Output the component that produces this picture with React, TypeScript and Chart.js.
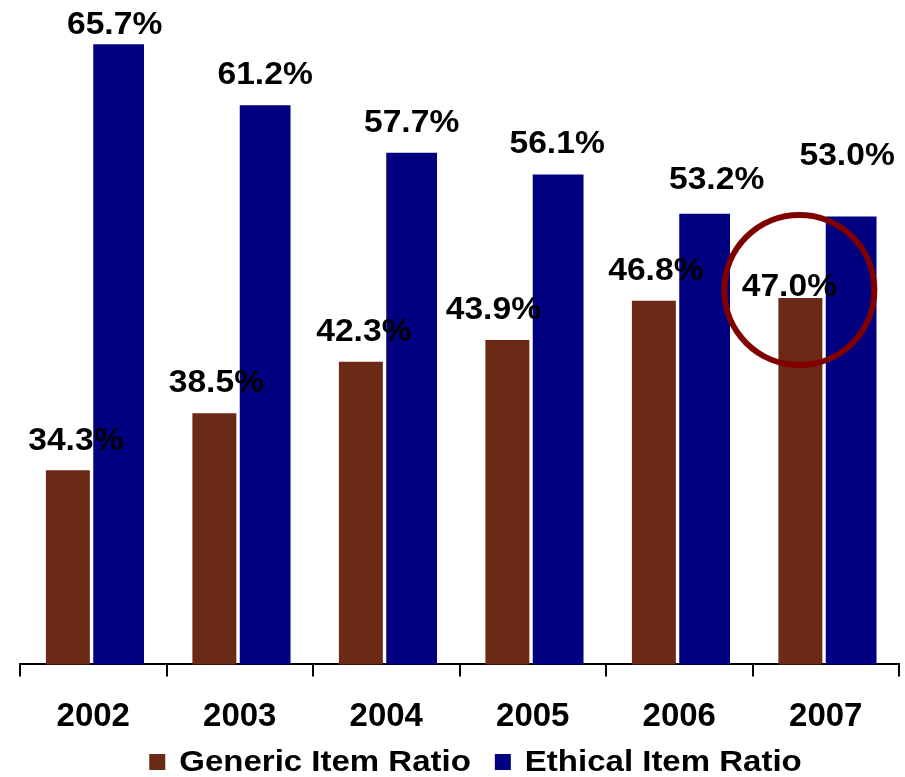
import React, { useEffect, useRef } from "react";
import { Chart, registerables } from "chart.js";

Chart.register(...registerables);

// Years on the category axis
const years = ["2002", "2003", "2004", "2005", "2006", "2007"];

// Share of items (%) per year
const genericRatio = [34.3, 38.5, 42.3, 43.9, 46.8, 47.0];
const ethicalRatio = [65.7, 61.2, 57.7, 56.1, 53.2, 53.0];

const seriesNames = ["Generic Item Ratio", "Ethical Item Ratio"];

// Small hand placement tweaks for the value labels: [dx, dy] in px
const genericLabelNudge = [[8, 1], [2, 0], [3, 0], [-14, 0], [2, 0], [-11, 19]];
const ethicalLabelNudge = [[-4, 11], [0, 0], [0, 0], [-1, 0], [12, -4], [-4, -31]];

const BROWN = "#6B2A16";
const NAVY = "#000080";
const FONT_FAMILY = "'Liberation Sans', Arial, Helvetica, sans-serif";

// Percent labels above each bar
const valueLabels = {
  id: "valueLabels",
  afterDatasetsDraw(chart: any) {
    const ctx = chart.ctx;
    const nudges = [genericLabelNudge, ethicalLabelNudge];
    ctx.save();
    ctx.font = `bold 32px ${FONT_FAMILY}`;
    ctx.fillStyle = "#000";
    ctx.textAlign = "center";
    ctx.textBaseline = "alphabetic";
    chart.data.datasets.forEach((ds: any, di: number) => {
      const meta = chart.getDatasetMeta(di);
      meta.data.forEach((el: any, i: number) => {
        const [dx, dy] = nudges[di][i];
        const text = Number(ds.data[i]).toFixed(1) + "%";
        ctx.save();
        ctx.translate(el.x + dx, el.y - 21 + dy);
        ctx.scale(1.05, 1);
        ctx.fillText(text, 0, 0);
        ctx.restore();
      });
    });
    ctx.restore();
  },
};

// Ring highlighting the latest generic value
const highlightRing = {
  id: "highlightRing",
  afterDraw(chart: any) {
    const el = chart.getDatasetMeta(0).data[years.length - 1];
    if (!el) return;
    const ctx = chart.ctx;
    ctx.save();
    ctx.beginPath();
    ctx.arc(el.x - 1, el.y - 8, 75, 0, Math.PI * 2);
    ctx.lineWidth = 6;
    ctx.strokeStyle = "#800000";
    ctx.stroke();
    ctx.restore();
  },
};

// Legend row under the axis labels
const bottomLegend = {
  id: "bottomLegend",
  afterDraw(chart: any) {
    const ctx = chart.ctx;
    const area = chart.chartArea;
    const box = 16;
    const boxGap = 14;
    const itemGap = 24;
    const stretch = 1.1;
    const colors = [BROWN, NAVY];
    ctx.save();
    ctx.font = `bold 30px ${FONT_FAMILY}`;
    const widths = seriesNames.map((n) => ctx.measureText(n).width * stretch);
    const total =
      widths.reduce((a, b) => a + b, 0) + seriesNames.length * (box + boxGap) + itemGap * (seriesNames.length - 1);
    const cx = (area.left + area.right) / 2 + 16;
    const cy = chart.height - 15;
    let x = cx - total / 2;
    seriesNames.forEach((name, i) => {
      ctx.fillStyle = colors[i];
      ctx.fillRect(x, cy - box / 2, box, box);
      x += box + boxGap;
      ctx.save();
      ctx.translate(x, cy);
      ctx.scale(stretch, 1);
      ctx.fillStyle = "#000";
      ctx.textAlign = "left";
      ctx.textBaseline = "middle";
      ctx.fillText(name, 0, 1);
      ctx.restore();
      x += widths[i] + itemGap;
    });
    ctx.restore();
  },
};

export default function App() {
  const canvasRef = useRef<HTMLCanvasElement | null>(null);

  useEffect(() => {
    const canvas = canvasRef.current;
    if (!canvas) return;
    const chart = new Chart(canvas, {
      type: "bar",
      data: {
        labels: years,
        datasets: [
          {
            label: seriesNames[0],
            data: genericRatio,
            backgroundColor: BROWN,
            barPercentage: 0.866,
            categoryPercentage: 0.693,
          },
          {
            label: seriesNames[1],
            data: ethicalRatio,
            backgroundColor: NAVY,
            barPercentage: 1.0,
            categoryPercentage: 0.693,
          },
        ],
      },
      options: {
        responsive: false,
        animation: false,
        devicePixelRatio: 1,
        layout: { padding: { left: 20, right: 6, top: 13, bottom: 19 } },
        plugins: {
          legend: { display: false },
          tooltip: { enabled: false },
          title: { display: false },
        },
        scales: {
          x: {
            grid: {
              display: true,
              offset: true,
              drawOnChartArea: false,
              drawTicks: true,
              tickLength: 12,
              color: "#000",
              lineWidth: 2,
            },
            border: { display: true, color: "#000", width: 2 },
            ticks: {
              color: "#000",
              padding: 21,
              font: { family: FONT_FAMILY, size: 33, weight: "bold" },
            },
          },
          y: {
            display: false,
            min: 20,
            max: 68,
          },
        },
      },
      plugins: [valueLabels, highlightRing, bottomLegend],
    });
    return () => chart.destroy();
  }, []);

  return (
    <div style={{ position: "fixed", left: 0, top: 0, width: 905, height: 777, background: "#fff" }}>
      <canvas ref={canvasRef} width={905} height={777} style={{ display: "block" }} />
    </div>
  );
}
